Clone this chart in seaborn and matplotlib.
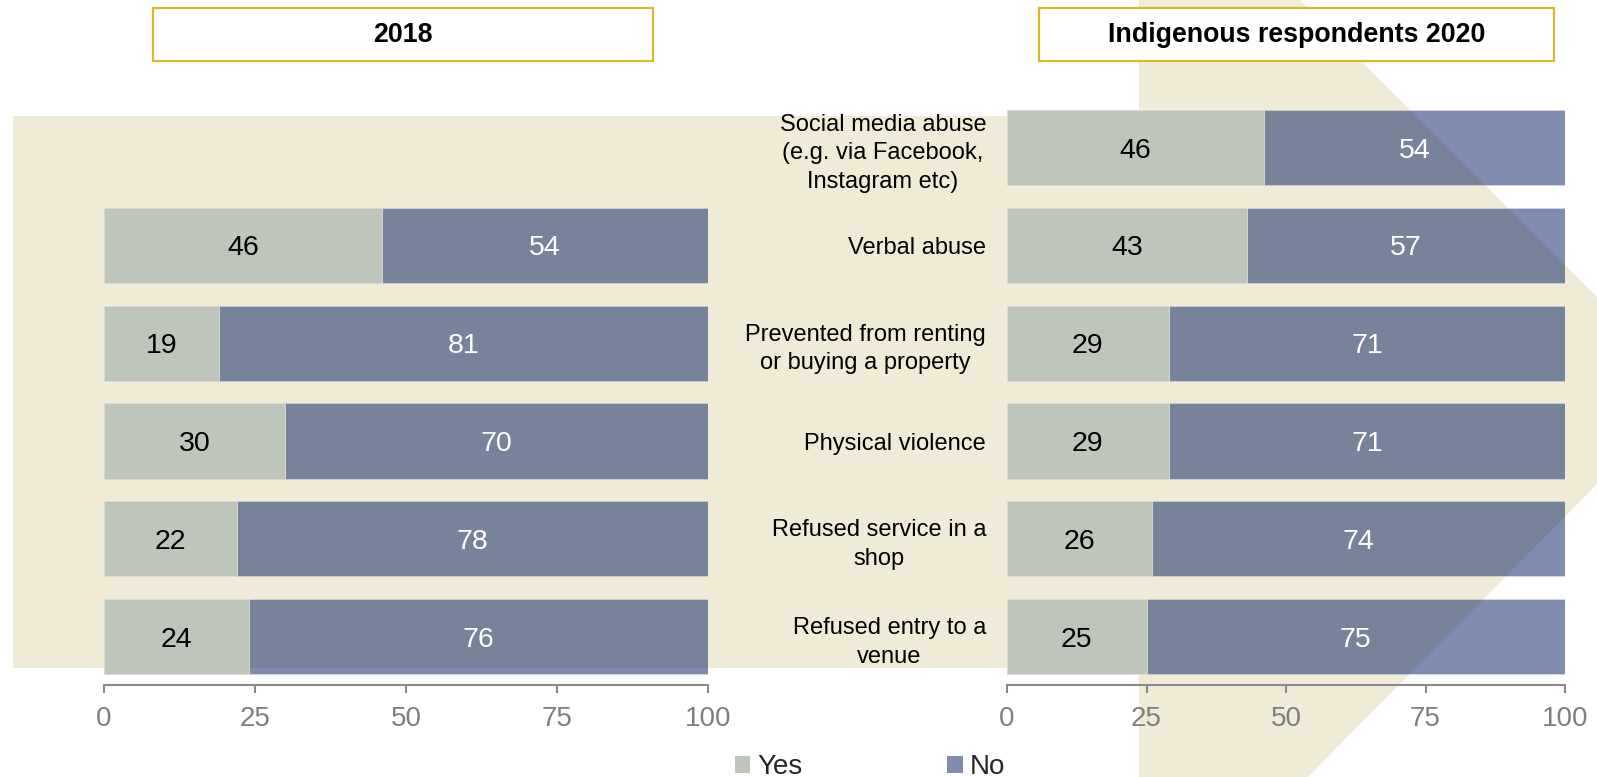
import pandas as pd
import seaborn as sns
import matplotlib.pyplot as plt
from matplotlib.patches import Polygon, Rectangle, Patch

# data
categories = ["Social media abuse\n(e.g. via Facebook,\nInstagram etc)",
              "Verbal abuse",
              "Prevented from renting\nor buying a property",
              "Physical violence",
              "Refused service in a\nshop",
              "Refused entry to a\nvenue"]
yes_2018 = [None, 46, 19, 30, 22, 24]
no_2018 = [None, 54, 81, 70, 78, 76]
yes_2020 = [46, 43, 29, 29, 26, 25]
no_2020 = [54, 57, 71, 71, 74, 75]
panel_titles = ["2018", "Indigenous respondents 2020"]
ticks = [0, 25, 50, 75, 100]

yes_color = "#bec5ba"
no_color = (0.0, 0.105, 0.38, 0.5)
beige = "#f0ebd6"
gold = "#d6ba2c"
grey = "#8a8a8a"

sns.set_style("white")
plt.rcParams['font.family'] = ['Liberation Sans', 'DejaVu Sans']

W, H = 1597, 777
fig = plt.figure(figsize=(W / 100, H / 100), dpi=100)


def fx(x):
    return x / W


def fy(y):
    return 1 - y / H


# beige arrow behind everything
pts = [(13, 116), (1139, 116), (1139, -5), (1295, -5), (1690, 390),
       (1303, 782), (1139, 782), (1139, 668), (13, 668)]
fig.patches.append(Polygon([(fx(x), fy(y)) for x, y in pts], closed=True,
                           transform=fig.transFigure, facecolor=beige,
                           edgecolor='none', zorder=-5))

# title boxes
for (x0, x1), title in zip([(153, 653), (1039, 1554)], panel_titles):
    fig.patches.append(Rectangle((fx(x0), fy(61)), fx(x1 - x0), (61 - 8) / H,
                                 transform=fig.transFigure, facecolor='white',
                                 edgecolor=gold, linewidth=1.6, zorder=1))
    fig.text(fx((x0 + x1) / 2), fy(35), title, ha='center', va='center',
             fontsize=19.3, fontweight='bold', color='black', zorder=2)

bottom = 1 - 685 / H
height = (685 - 98.8) / H
ax_left = fig.add_axes([fx(104), bottom, fx(708 - 104), height])
ax_right = fig.add_axes([fx(1007), bottom, fx(1565 - 1007), height])

for ax, yes, no in [(ax_left, yes_2018, no_2018), (ax_right, yes_2020, no_2020)]:
    df = pd.DataFrame({'cat': categories, 'yes': yes, 'no': no}).dropna()
    df['total'] = df['yes'] + df['no']
    ax.set_facecolor('none')
    sns.barplot(data=df, y='cat', x='total', order=categories, orient='h',
                color=no_color[:3], alpha=no_color[3], saturation=1,
                width=0.77, linewidth=0.6, edgecolor='#e4e6ea', ax=ax)
    sns.barplot(data=df, y='cat', x='yes', order=categories, orient='h',
                color=yes_color, saturation=1, width=0.77, linewidth=0.6,
                edgecolor='#dadfd8', ax=ax)
    for _, r in df.iterrows():
        i = categories.index(r['cat'])
        ax.text(r['yes'] / 2, i, f"{r['yes']:.0f}", ha='center',
                va='center_baseline', fontsize=20.5, color='black')
        ax.text(r['yes'] + r['no'] / 2, i, f"{r['no']:.0f}", ha='center',
                va='center_baseline', fontsize=20.5, color='white')
    ax.set_xlim(0, 100)
    ax.set_ylim(5.495, -0.5)
    ax.set_xticks(ticks)
    ax.set_xlabel('')
    ax.set_ylabel('')
    for s in ['top', 'right', 'left']:
        ax.spines[s].set_visible(False)
    ax.spines['bottom'].set_color(grey)
    ax.spines['bottom'].set_linewidth(1.5)
    ax.tick_params(axis='x', bottom=True, length=6, width=1.5, color=grey,
                   labelcolor='#7f7f7f', labelsize=20, pad=9)
    ax.tick_params(axis='y', left=False, length=0)

ax_left.set_yticklabels([])
ax_right.tick_params(axis='y', labelsize=17, pad=15, labelcolor='black')
for lbl in ax_right.get_yticklabels():
    lbl.set_multialignment('center')
    lbl.set_linespacing(1.38)

handles = [Patch(facecolor=yes_color, edgecolor='none', label='Yes'),
           Patch(facecolor=no_color, edgecolor='none', label='No')]
fig.legend(handles=handles, loc='center left', bbox_to_anchor=(fx(735), fy(767)),
           ncol=2, frameon=False, fontsize=20, handlelength=0.55,
           handleheight=0.55, handletextpad=0.27, columnspacing=5.2,
           borderpad=0, borderaxespad=0)

fig.savefig('out.png', dpi=100)
